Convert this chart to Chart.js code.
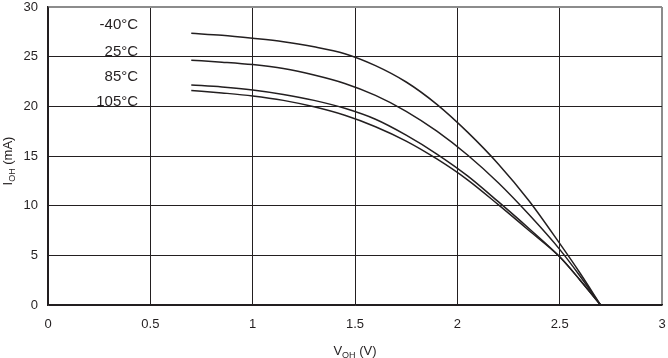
<!DOCTYPE html>
<html>
<head>
<meta charset="utf-8">
<script src="https://cdn.jsdelivr.net/npm/chart.js@4"></script>
<style>
  html, body { margin: 0; padding: 0; background: #fff; }
  #wrap { width: 668px; height: 358px; }
</style>
</head>
<body>
<div id="wrap"><canvas id="iohChart"></canvas></div>
<script>
// V_OH sample points (V)
const voltages = [0.7, 0.85, 1.0, 1.15, 1.3, 1.45, 1.6, 1.75, 1.9, 2.05, 2.2, 2.35, 2.5, 2.6, 2.7];
const temps = ["-40°C", "25°C", "85°C", "105°C"];
// I_OH (mA)
const iohM40 = [27.35, 27.15, 26.85, 26.5, 26.0, 25.3, 24.1, 22.45, 20.2, 17.4, 14.2, 10.5, 6.2, 3.2, 0];
const ioh25  = [24.65, 24.45, 24.2, 23.8, 23.15, 22.3, 21.1, 19.5, 17.5, 15.1, 12.3, 9.1, 5.6, 2.9, 0];
const ioh85  = [22.15, 21.95, 21.65, 21.2, 20.6, 19.8, 18.7, 17.1, 15.2, 13.0, 10.4, 7.7, 4.85, 2.5, 0];
const ioh105 = [21.6, 21.35, 21.05, 20.6, 19.95, 19.1, 17.95, 16.5, 14.7, 12.6, 10.1, 7.5, 4.85, 2.5, 0];
const xTicks = [0, 0.5, 1, 1.5, 2, 2.5, 3];
const yTicks = [0, 5, 10, 15, 20, 25, 30];

// where the temperature labels sit (right edge, in data units)
const labelX = 0.44;
const labelY = [28.2, 25.5, 23.0, 20.5];

const ink = "#231f20";
const edge = "#8c8c8c";
const font = '"Liberation Sans", Arial, sans-serif';

const series = [iohM40, ioh25, ioh85, ioh105];

function pts(vals) {
  return vals.map((v, i) => ({ x: voltages[i], y: v }));
}

function drawSubTitle(ctx, main, sub, rest, cx, base) {
  ctx.font = "13px " + font;
  const w1 = ctx.measureText(main).width;
  const w3 = ctx.measureText(rest).width;
  ctx.font = "9px " + font;
  const w2 = ctx.measureText(sub).width;
  let x = cx - (w1 + w2 + w3) / 2;
  ctx.textAlign = "left";
  ctx.textBaseline = "alphabetic";
  ctx.font = "13px " + font;
  ctx.fillText(main, x, base);
  x += w1;
  ctx.font = "9px " + font;
  ctx.fillText(sub, x, base + 3);
  x += w2;
  ctx.font = "13px " + font;
  ctx.fillText(rest, x, base);
}

const textPlugin = {
  id: "textPlugin",
  afterDraw(chart) {
    const { ctx, chartArea } = chart;
    const x = chart.scales.x, y = chart.scales.y;
    ctx.save();
    ctx.fillStyle = ink;
    ctx.font = "15px " + font;
    ctx.textAlign = "right";
    ctx.textBaseline = "middle";
    temps.forEach((t, i) => {
      ctx.fillText(t, x.getPixelForValue(labelX), y.getPixelForValue(labelY[i]));
    });

    drawSubTitle(ctx, "V", "OH", " (V)", (chartArea.left + chartArea.right) / 2, 355);

    ctx.translate(12, 161);
    ctx.rotate(-Math.PI / 2);
    drawSubTitle(ctx, "I", "OH", " (mA)", 0, 0);
    ctx.restore();
  }
};

new Chart(document.getElementById("iohChart"), {
  type: "scatter",
  data: {
    datasets: series.map((s, i) => ({
      label: temps[i],
      data: pts(s),
      showLine: true,
      borderColor: ink,
      borderWidth: 1.5,
      pointRadius: 0,
      cubicInterpolationMode: "monotone",
      fill: false
    }))
  },
  options: {
    responsive: true,
    maintainAspectRatio: false,
    animation: false,
    layout: { padding: { left: 0, right: 6, top: 7, bottom: 0 } },
    plugins: {
      legend: { display: false },
      tooltip: { enabled: false }
    },
    scales: {
      x: {
        type: "linear",
        min: 0,
        max: 3,
        afterBuildTicks: (axis) => { axis.ticks = xTicks.map(v => ({ value: v })); },
        afterFit: (axis) => {
          axis.height = 53;
          axis.paddingLeft = 0;
          axis.paddingRight = 0;
        },
        ticks: {
          color: ink, font: { family: font, size: 13 }, padding: 12, maxRotation: 0,
          callback: (v) => String(v)
        },
        grid: {
          drawTicks: false,
          color: (c) => c.tick && c.tick.value === 3 ? edge : ink,
          lineWidth: (c) => c.tick && c.tick.value === 3 ? 2 : 1
        },
        border: { color: ink, width: 1.5 }
      },
      y: {
        type: "linear",
        min: 0,
        max: 30,
        afterBuildTicks: (axis) => { axis.ticks = yTicks.map(v => ({ value: v })); },
        afterFit: (axis) => {
          axis.width = 48;
          axis.paddingTop = 0;
          axis.paddingBottom = 0;
        },
        ticks: { color: ink, font: { family: font, size: 13 }, padding: 10 },
        grid: {
          drawTicks: false,
          color: (c) => c.tick && c.tick.value === 30 ? edge : ink,
          lineWidth: (c) => c.tick && c.tick.value === 30 ? 2 : 1
        },
        border: { color: ink, width: 1.5 }
      }
    }
  },
  plugins: [textPlugin]
});
</script>
</body>
</html>
